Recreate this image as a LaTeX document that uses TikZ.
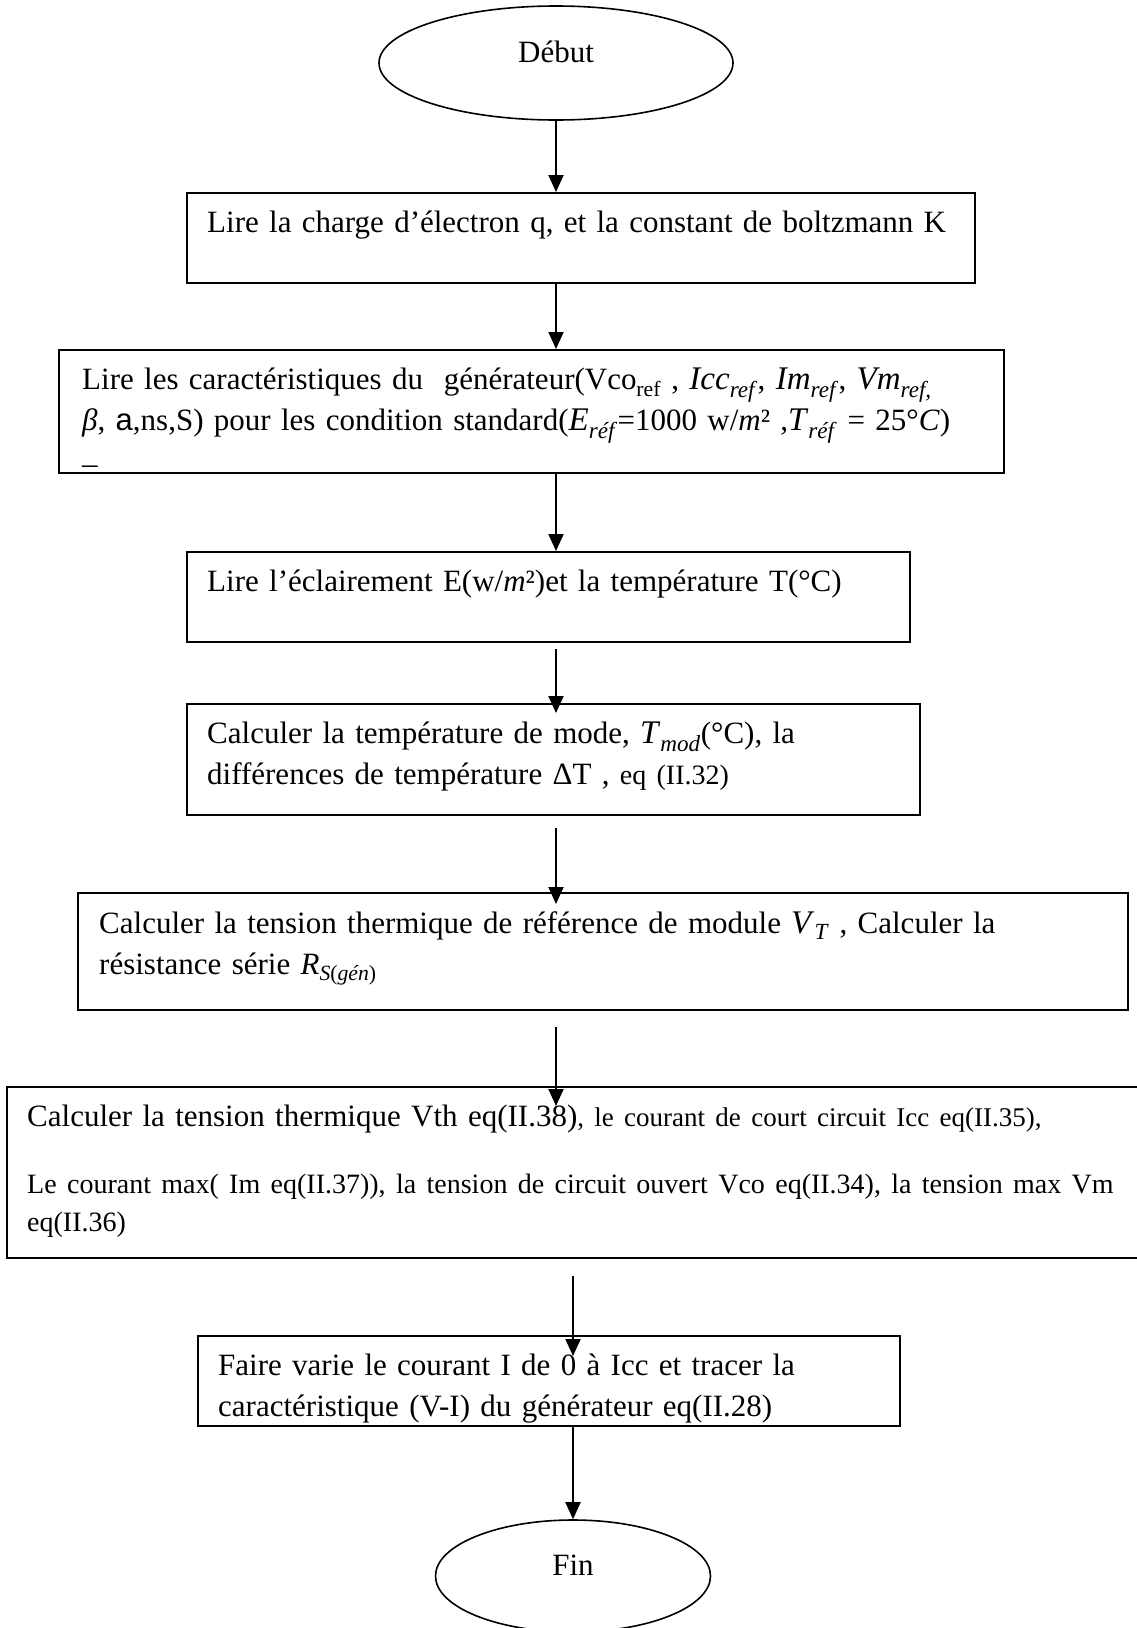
\documentclass[tikz,border=0pt]{standalone}
\usepackage{fontspec}
\setmainfont{Liberation Serif}
\setsansfont{Liberation Sans}
\usepackage{tikz}
\usetikzlibrary{positioning, arrows.meta, shapes.geometric}
\setlength{\parindent}{0pt}
\newcommand{\smalltxt}{\fontsize{28}{38}\selectfont}
\newcommand{\mvar}[2]{{\fontsize{33}{41}\selectfont\textit{#1}\textsubscript{\textit{#2}}}}

\begin{document}
\begin{tikzpicture}[
  x=1pt, y=-1pt,
  every node/.style={font=\fontsize{31}{41}\selectfont},
  box/.style={draw, line width=2pt, inner sep=0pt},
  term/.style={draw, ellipse, line width=1.6pt, text depth=22pt},
  txt/.style={inner sep=0pt, align=left, text width=1100pt},
  arr/.style={line width=2pt, -{Triangle[length=17pt, width=15pt]}}
]
\useasboundingbox (0,0) rectangle (1137,1628);

\node[term, minimum width=354pt, minimum height=114pt] (debut) at (556, 63) {Début};
\node[box, minimum width=788pt,  minimum height=90pt]  (lire)   at (581, 238)    {};
\node[box, minimum width=945pt,  minimum height=123pt] (carac)  at (531.5, 411.5) {};
\node[box, minimum width=723pt,  minimum height=90pt]  (eclair) at (548.5, 597)  {};
\node[box, minimum width=733pt,  minimum height=111pt] (tmod)   at (553.5, 759.5) {};
\node[box, minimum width=1050pt, minimum height=117pt] (vt)     at (603, 951.5)  {};
\node[box, minimum width=1143pt, minimum height=171pt] (calc)   at (578.5, 1172.5) {};
\node[box, minimum width=702pt,  minimum height=90pt]  (varie)  at (549, 1381)   {};
\node[term, minimum width=275pt, minimum height=112pt] (fin)    at (573, 1576)   {Fin};

% texts, top left in each box
\node[txt, below right=19pt and 21pt of lire.north west] (liretxt)
  {Lire la charge d’électron q, et la constant de boltzmann K};
\node[txt, below right=19pt and 24pt of carac.north west] (caractxt)
  {Lire les caractéristiques du\ \ générateur(Vco\textsubscript{ref} , \mvar{Icc}{ref}, \mvar{Im}{ref}, \mvar{Vm}{ref,}\\
   \textit{β}, {\sffamily a},ns,S) pour les condition standard(\mvar{E}{réf}=1000 w/\textit{m}² ,\mvar{T}{réf} = 25°\textit{C})\\[-8pt]
   \_};
\node[txt, below right=19pt and 21pt of eclair.north west] (eclairtxt)
  {Lire l’éclairement E(w/\textit{m}²)et la température T(°C)};
\node[txt, below right=19pt and 21pt of tmod.north west] (tmodtxt)
  {Calculer la température de mode, \mvar{T}{mod}(°C), la\\
   différences de température ΔT , {\smalltxt eq (II.32)}};
\node[txt, below right=19pt and 22pt of vt.north west] (vttxt)
  {Calculer la tension thermique de référence de module \mvar{V}{T} , Calculer la\\
   résistance série \textit{R}\textsubscript{\textit{S}(\textit{gén})}};
\node[txt, below right=19pt and 21pt of calc.north west] (calctxt)
  {{Calculer la tension thermique Vth eq(II.38)\fontsize{27}{38}\selectfont, le courant de court circuit Icc eq(II.35),\par}
   \vspace{29pt}
   {\smalltxt Le courant max( Im eq(II.37)), la tension de circuit ouvert Vco eq(II.34), la tension max Vm\\
   eq(II.36)\par}};
\node[txt, below right=19pt and 21pt of varie.north west] (varietxt)
  {Faire varie le courant I de 0 à Icc et tracer la\\
   caractéristique (V-I) du générateur eq(II.28)};

\draw[arr] (debut) -- (lire.north -| debut);
\draw[arr] (lire.south -| debut) -- (carac.north -| debut);
\draw[arr] (carac.south -| debut) -- (eclair.north -| debut);
\draw[arr] ([yshift=-6pt]eclair.south -| debut) -- ([yshift=-10pt]tmod.north -| debut);
\draw[arr] ([yshift=-12pt]tmod.south -| debut) -- ([yshift=-12pt]vt.north -| debut);
\draw[arr] ([yshift=-16pt]vt.south -| debut) -- ([yshift=-20pt]calc.north -| debut);
\draw[arr] ([yshift=-17pt]calc.south -| fin) -- ([yshift=-21pt]varie.north -| fin);
\draw[arr] (varie.south -| fin) -- (fin);
\end{tikzpicture}
\end{document}
